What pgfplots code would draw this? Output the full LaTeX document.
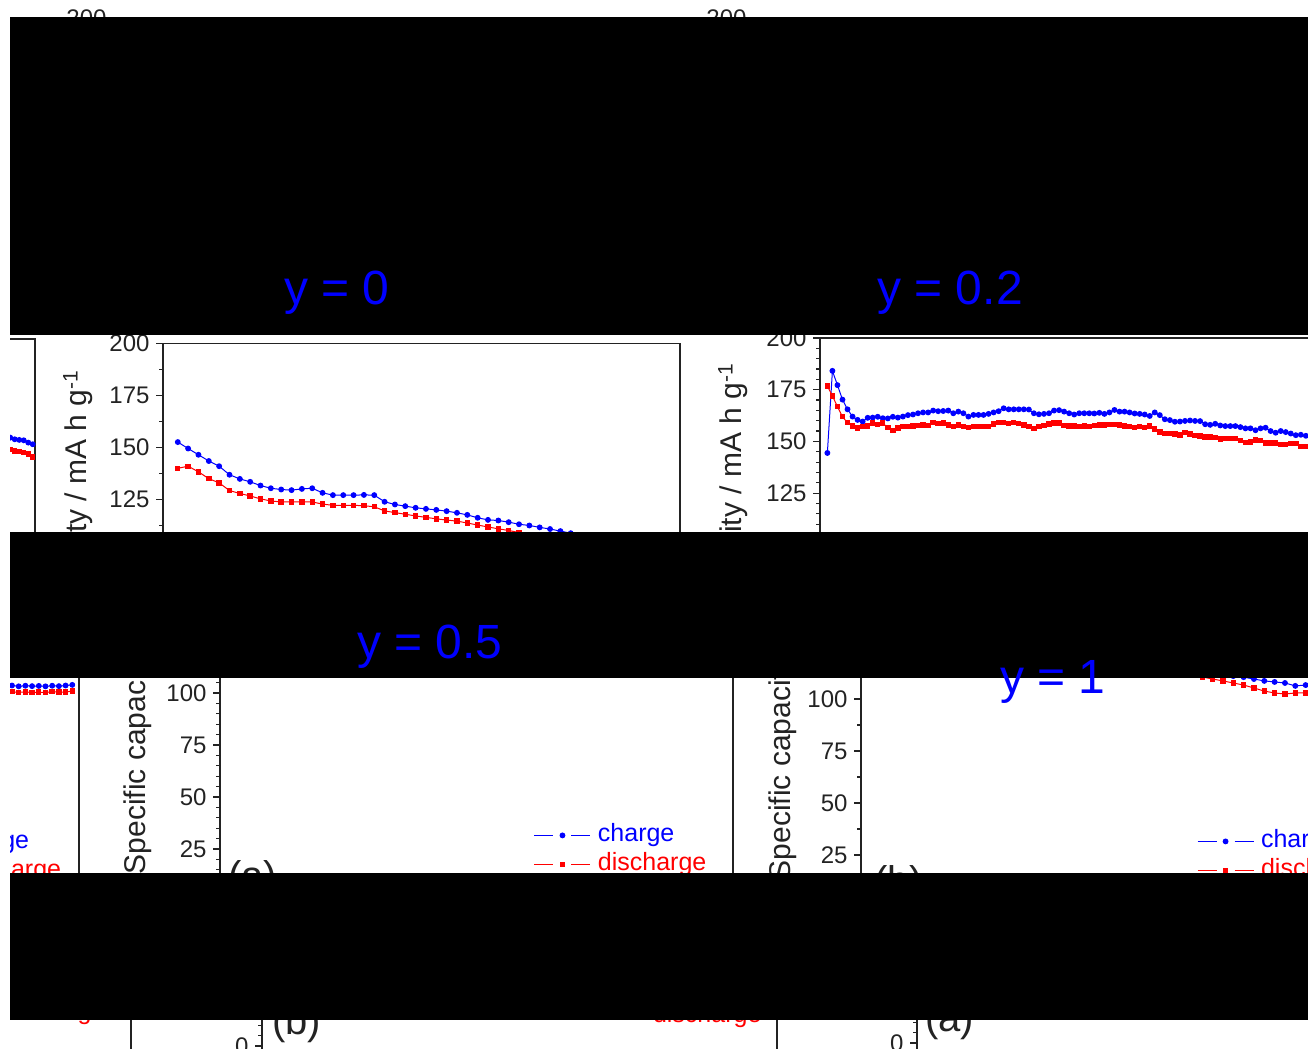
\documentclass[border=0pt]{standalone}
\usepackage{fontspec}
\setmainfont{Liberation Sans}
\usepackage{pgfplots}
\pgfplotsset{compat=1.18}
\newcommand{\fs}[1]{\fontsize{#1bp}{#1bp}\selectfont}
\definecolor{cblue}{RGB}{0,0,255}
\definecolor{cred}{RGB}{255,0,0}
\definecolor{axc}{RGB}{35,35,35}
\pgfplotsset{
  legend image code/.code={\draw[mark repeat=2,mark phase=2,dash pattern=on 19bp off 18bp on 19bp,#1] plot coordinates {(0bp,0bp) (28bp,0bp) (56bp,0bp)};},
  panel/.style={
    scale only axis, ymin=-15, ymax=200, ytick={0,25,...,200}, xtick=\empty,
    ytick pos=left, tick align=outside, major tick length=7bp, minor tick length=4bp,
    axis line style={axc, line width=1.3bp},
    every tick/.style={axc, line width=1.1bp},
    /pgf/number format/assume math mode=true,
    yticklabel style={font=\fs{24}, text=axc, xshift=-3bp},
    legend cell align=left,
  },
  lab/.style={ylabel={Specific capacity / mA h g\textsuperscript{-1}},
    ylabel style={font=\fs{30}, text=axc, inner sep=0pt, anchor=north, at={(axis description cs:#1,0.5349)}}},
  leg/.style 2 args={legend style={draw=none, fill=none, font=\fs{25}, inner sep=0pt, outer sep=0pt,
    anchor=west, at={(axis description cs:#1,#2)}, row sep=4bp, column sep=6bp,
    nodes={inner sep=1bp, text height=18bp, text depth=5bp}}},
  ser blue/.style={cblue, line width=1bp, mark=*, mark size=2.4bp, mark options={solid}},
  ser red/.style={cred, line width=1bp, mark=square*, mark size=2.2bp, mark options={solid}},
}
\begin{document}
\begin{tikzpicture}[x=1bp,y=1bp]
\useasboundingbox (0,0) rectangle (1308,1048);
\clip (0,0) rectangle (1308,1048);

% ---------------- top strip (y 0-17)
\begin{scope}
\clip (10,1031) rectangle (1308,1048);
\begin{axis}[panel, minor y tick num=1, at={(120bp,582.3bp)}, anchor=south west, width=517bp, height=447.2bp, xmin=0, xmax=50]
\addplot[draw=none] coordinates {(0,0)};
\end{axis}
\begin{axis}[panel, minor y tick num=1, at={(760bp,582.3bp)}, anchor=south west, width=517bp, height=447.2bp, xmin=0, xmax=50]
\addplot[draw=none] coordinates {(0,0)};
\end{axis}
\end{scope}

% ---------------- strip 1 (y 335-532)
\begin{scope}
\clip (10,516) rectangle (1308,713);
% far-left panel (only its right end is seen)
\begin{axis}[panel, minor y tick num=4, at={(-415bp,264.4bp)}, anchor=south west, width=450bp, height=444.6bp, xmin=0.5, xmax=100.5]
\addplot[ser blue] coordinates {(95,152.3) (96,151.5) (97,151.2) (98,151.0) (99,149.9) (100,149.1)};
\addplot[ser red] coordinates {(95,146.7) (96,145.8) (97,145.5) (98,145.0) (99,144.3) (100,143.0)};
\end{axis}
% y = 0 panel
\begin{axis}[panel, lab=-0.1934, minor y tick num=1, at={(163bp,257.3bp)}, anchor=south west, width=517bp, height=447.2bp, xmin=-0.43, xmax=49.57]
\addplot[ser blue] coordinates {(1,152.6) (2,149.5) (3,146.5) (4,143.5) (5,141.0) (6,136.9) (7,134.9) (8,133.5) (9,131.7) (10,130.4) (11,129.8) (12,129.5) (13,130.1) (14,130.4) (15,128.2) (16,127.1) (17,127.1) (18,127.1) (19,127.2) (20,127.1) (21,123.9) (22,122.6) (23,121.8) (24,121.0) (25,120.5) (26,120.0) (27,119.4) (28,118.6) (29,117.6) (30,116.2) (31,115.2) (32,114.9) (33,114.1) (34,113.1) (35,112.5) (36,111.6) (37,110.8) (38,109.8) (39,108.8) (40,107.6)};
\addplot[ser red] coordinates {(1,140.0) (2,141.0) (3,138.3) (4,135.0) (5,133.0) (6,129.3) (7,127.9) (8,126.7) (9,125.3) (10,124.3) (11,123.8) (12,123.8) (13,123.8) (14,123.8) (15,122.8) (16,122.2) (17,122.2) (18,122.2) (19,122.0) (20,121.5) (21,119.5) (22,118.7) (23,117.9) (24,117.1) (25,116.4) (26,115.7) (27,115.1) (28,114.6) (29,113.7) (30,112.7) (31,111.8) (32,110.9) (33,110.1) (34,109.1) (35,108.0)};
\end{axis}
% y = 0.2 panel
\begin{axis}[panel, lab=-0.2016, minor y tick num=4, at={(820bp,265.4bp)}, anchor=south west, width=506bp, height=444.6bp, xmin=-0.46, xmax=100]
\addplot[ser blue] coordinates {(1,144.4) (2,184.1) (3,177.2) (4,170.2) (5,165.5) (6,162.0) (7,160.4) (8,159.6) (9,161.4) (10,161.5) (11,161.9) (12,161.2) (13,161.1) (14,161.9) (15,161.5) (16,162.0) (17,162.7) (18,163.0) (19,163.6) (20,164.0) (21,164.0) (22,164.9) (23,164.6) (24,164.7) (25,164.9) (26,163.6) (27,164.4) (28,163.6) (29,162.0) (30,162.8) (31,162.8) (32,162.8) (33,163.3) (34,164.0) (35,164.6) (36,166.0) (37,165.5) (38,165.5) (39,165.5) (40,165.5) (41,165.4) (42,163.6) (43,163.1) (44,163.3) (45,163.6) (46,164.9) (47,165.1) (48,164.4) (49,163.6) (50,163.0) (51,163.6) (52,163.6) (53,163.6) (54,163.5) (55,163.8) (56,163.3) (57,164.0) (58,165.2) (59,164.4) (60,164.4) (61,164.0) (62,163.5) (63,163.3) (64,163.0) (65,162.3) (66,164.0) (67,162.7) (68,160.7) (69,160.3) (70,159.5) (71,159.6) (72,159.9) (73,160.1) (74,159.9) (75,159.8) (76,158.3) (77,158.0) (78,158.5) (79,157.7) (80,157.4) (81,157.4) (82,157.4) (83,156.9) (84,156.3) (85,156.3) (86,155.4) (87,156.3) (88,156.6) (89,155.0) (90,154.2) (91,155.0) (92,154.5) (93,153.8) (94,153.0) (95,153.2) (96,152.7)};
\addplot[ser red] coordinates {(1,176.8) (2,172.0) (3,166.8) (4,161.9) (5,159.0) (6,157.4) (7,156.4) (8,157.1) (9,157.4) (10,158.8) (11,158.3) (12,158.8) (13,156.6) (14,155.4) (15,156.4) (16,157.1) (17,157.1) (18,157.5) (19,157.7) (20,158.0) (21,157.7) (22,159.0) (23,158.7) (24,158.8) (25,158.0) (26,157.1) (27,158.0) (28,157.2) (29,156.7) (30,157.2) (31,157.2) (32,157.1) (33,157.2) (34,158.5) (35,159.0) (36,159.0) (37,158.7) (38,159.0) (39,158.7) (40,158.0) (41,157.2) (42,156.3) (43,157.1) (44,157.7) (45,158.5) (46,158.8) (47,158.8) (48,157.7) (49,157.5) (50,157.5) (51,157.1) (52,157.4) (53,157.2) (54,157.7) (55,157.9) (56,158.0) (57,158.2) (58,158.2) (59,158.0) (60,157.4) (61,157.2) (62,156.7) (63,157.1) (64,156.6) (65,157.5) (66,155.9) (67,154.6) (68,153.7) (69,153.8) (70,153.5) (71,153.0) (72,154.2) (73,153.5) (74,152.9) (75,152.6) (76,152.1) (77,152.1) (78,151.9) (79,151.1) (80,151.3) (81,151.3) (82,151.3) (83,150.5) (84,149.5) (85,149.7) (86,150.6) (87,150.3) (88,149.2) (89,149.2) (90,149.2) (91,148.6) (92,148.6) (93,149.0) (94,149.0) (95,147.6) (96,147.6)};
\end{axis}
\end{scope}

% ---------------- strip 2 (y 678-873)
\begin{scope}
\clip (10,175) rectangle (1308,370);
\begin{axis}[panel, leg={0.716}{0.17}, minor y tick num=4, at={(-591bp,115.8bp)}, anchor=south west, width=670bp, height=447.2bp, xmin=0, xmax=100]
\addplot[ser blue] coordinates {(90,103.6) (91,103.2) (92,103.5) (93,103.3) (94,103.4) (95,103.2) (96,103.5) (97,103.3) (98,103.6) (99,103.9)};
\addlegendentry{\textcolor{cblue}{charge}}
\addplot[ser red] coordinates {(90,100.6) (91,100.3) (92,100.5) (93,100.2) (94,100.4) (95,100.2) (96,100.6) (97,100.4) (98,100.5) (99,100.9)};
\addlegendentry{\textcolor{cred}{discharge}}
\end{axis}
% y = 0.5 panel (a)
\begin{axis}[panel, lab=-0.191, leg={0.612}{0.184}, minor y tick num=4, at={(220bp,115.8bp)}, anchor=south west, width=513bp, height=447.2bp, xmin=0, xmax=50]
\addlegendimage{ser blue}
\addlegendentry{\textcolor{cblue}{charge}}
\addlegendimage{ser red}
\addlegendentry{\textcolor{cred}{discharge}}
\node[anchor=north west, inner sep=0pt, font=\fs{40}, text=axc] at (axis description cs:0.0156,0.1614) {(a)};
\end{axis}
% y = 1 panel (b)
\begin{axis}[panel, lab=-0.1818, leg={0.650}{0.184}, minor y tick num=1, at={(861bp,109.8bp)}, anchor=south west, width=517bp, height=447.2bp, xmin=0, xmax=50]
\addplot[ser blue] coordinates {(33,112.5) (34,112.0) (35,111.5) (36,111.0) (37,110.5) (38,109.6) (39,108.7) (40,108.2) (41,107.7) (42,106.3) (43,106.7)};
\addlegendentry{\textcolor{cblue}{charge}}
\addplot[ser red] coordinates {(33,110.6) (34,109.6) (35,108.7) (36,107.7) (37,106.7) (38,105.3) (39,103.8) (40,102.9) (41,102.4) (42,102.9) (43,102.9)};
\addlegendentry{\textcolor{cred}{discharge}}
\node[anchor=north west, inner sep=0pt, font=\fs{40}, text=axc] at (axis description cs:0.025,0.1637) {(b)};
\end{axis}
\end{scope}

% ---------------- bottom strip (y 1020-1048)
\begin{scope}
\clip (10,0) rectangle (1308,28);
\begin{axis}[panel, leg={0.614}{0.176}, minor y tick num=4, at={(-382bp,-29.2bp)}, anchor=south west, width=513bp, height=447.2bp, xmin=0, xmax=50]
\addlegendimage{ser blue}
\addlegendentry{\textcolor{cblue}{charge}}
\addlegendimage{ser red}
\addlegendentry{\textcolor{cred}{discharge}}
\end{axis}
\begin{axis}[panel, lab=-0.19, leg={0.635}{0.170}, minor y tick num=4, at={(262bp,-29.2bp)}, anchor=south west, width=515bp, height=447.2bp, xmin=0, xmax=50]
\addlegendimage{ser blue}
\addlegendentry{\textcolor{cblue}{charge}}
\addlegendimage{ser red}
\addlegendentry{\textcolor{cred}{discharge}}
\node[anchor=north west, inner sep=0pt, font=\fs{40}, text=axc] at (axis description cs:0.0194,0.1614) {(b)};
\end{axis}
\begin{axis}[panel, lab=-0.191, minor y tick num=4, at={(917bp,-26.2bp)}, anchor=south west, width=513bp, height=447.2bp, xmin=0, xmax=50]
\addplot[draw=none] coordinates {(0,0)};
\node[anchor=north west, inner sep=0pt, font=\fs{40}, text=axc] at (axis description cs:0.0156,0.1614) {(a)};
\end{axis}
\end{scope}

% ---------------- black bands
\fill[black] (10,713) rectangle (1308,1031);
\fill[black] (10,370) rectangle (1308,516);
\fill[black] (10,28) rectangle (1308,175);

% ---------------- titles
\node[anchor=base, inner sep=0pt, font=\fs{48}, text=cblue] at (337,743) {y = 0};
\node[anchor=base, inner sep=0pt, font=\fs{48}, text=cblue] at (950,743) {y = 0.2};
\node[anchor=base, inner sep=0pt, font=\fs{48}, text=cblue] at (430,389) {y = 0.5};
\node[anchor=base, inner sep=0pt, font=\fs{48}, text=cblue] at (1053,355) {y = 1};
\end{tikzpicture}
\end{document}
